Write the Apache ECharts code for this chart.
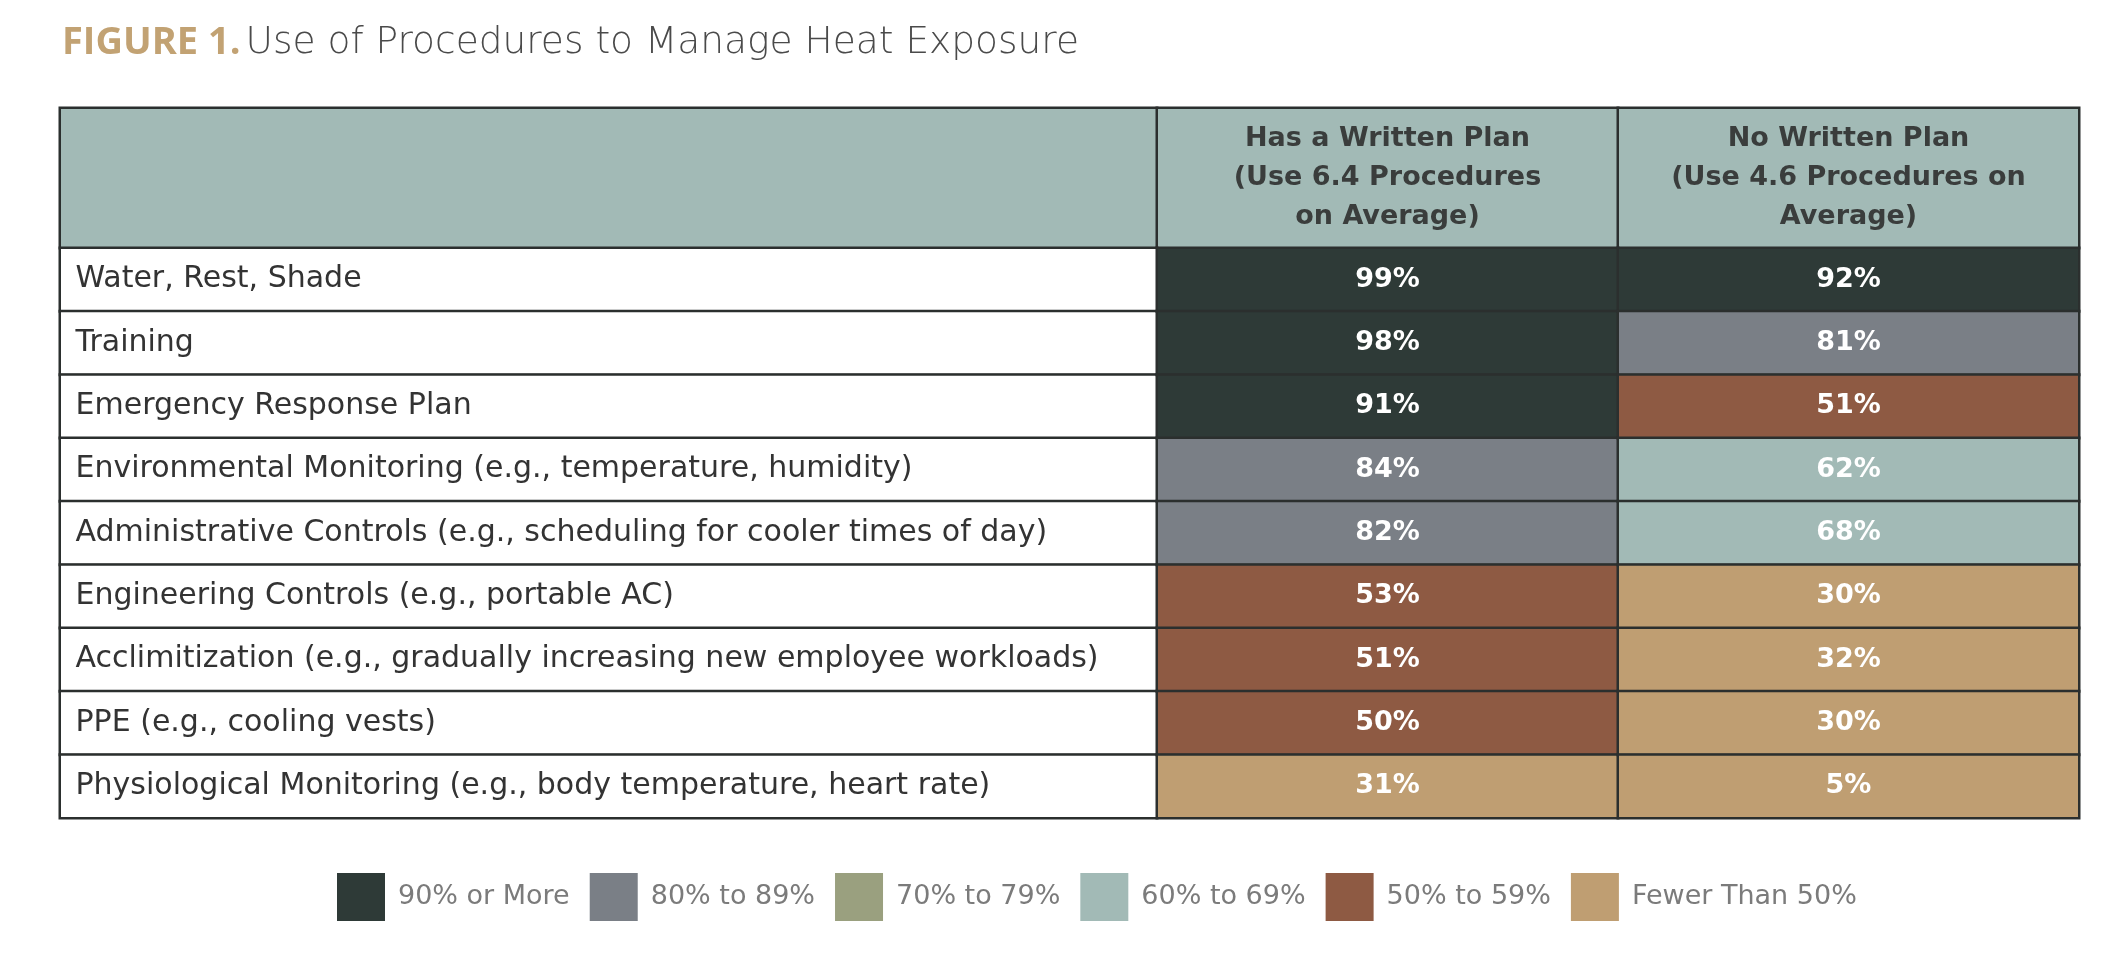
<!DOCTYPE html>
<html>
<head>
<meta charset="utf-8">
<title>Use of Procedures to Manage Heat Exposure</title>
<script src="https://cdn.jsdelivr.net/npm/echarts@6/dist/echarts.min.js"></script>
<style>
  html, body { margin: 0; padding: 0; background: #fff; }
  #chart { width: 2126px; height: 970px; }
</style>
</head>
<body>
<div id="chart"></div>
<script>
// procedures (rows, top to bottom)
const procedures = [
  'Water, Rest, Shade',
  'Training',
  'Emergency Response Plan',
  'Environmental Monitoring (e.g., temperature, humidity)',
  'Administrative Controls (e.g., scheduling for cooler times of day)',
  'Engineering Controls (e.g., portable AC)',
  'Acclimitization (e.g., gradually increasing new employee workloads)',
  'PPE (e.g., cooling vests)',
  'Physiological Monitoring (e.g., body temperature, heart rate)'
]
// column headers
const groups = [
  'Has a Written Plan\n(Use 6.4 Procedures\non Average)',
  'No Written Plan\n(Use 4.6 Procedures on\nAverage)'
]
// percent of employers using each procedure
const withPlan = [99, 98, 91, 84, 82, 53, 51, 50, 31]
const noPlan = [92, 81, 51, 62, 68, 30, 32, 30, 5]
// colour bands of the key
const bandLabels = ['90% or More', '80% to 89%', '70% to 79%', '60% to 69%', '50% to 59%', 'Fewer Than 50%']
const bandMins = [90, 80, 70, 60, 50, 0]
const bandColors = ['#2e3a37', '#7a7f86', '#9aa07f', '#a2bab6', '#8e5a43', '#bf9e72']

const font = 'DejaVu Sans'
const line = '#2b2f2e'

const valueCells = []
withPlan.forEach((v, i) => valueCells.push([0, i, v]))
noPlan.forEach((v, i) => valueCells.push([1, i, v]))

const pieces = bandLabels.map((label, i) => ({
  gte: bandMins[i],
  lt: i === 0 ? 101 : bandMins[i - 1],
  label: label,
  color: bandColors[i]
}))

const gridL = { left: 60, width: 1097 }
const gridV = { left: 1157, width: 922 }
const head = { top: 108, height: 140 }
const body = { top: 248, height: 570 }

const hiddenCat = (data, gridIndex, inverse) => ({
  type: 'category', data: data, gridIndex: gridIndex, show: false, inverse: !!inverse
})

let myChart = echarts.init(document.getElementById('chart'), null, { renderer: 'canvas' })

const option = {
  backgroundColor: '#fff',
  animation: false,
  title: {
    left: 57,
    top: 19,
    text: '{a|FIGURE 1.} {b|Use of Procedures to Manage Heat Exposure}',
    textStyle: {
      rich: {
        a: { fontFamily: 'Open Sans', fontSize: 38, fontWeight: 'bold', color: '#c2a273' },
        b: { fontFamily: font, fontSize: 37.5, fontWeight: 200, color: '#4a4a4a' }
      }
    }
  },
  grid: [
    Object.assign({}, gridL, head),
    Object.assign({}, gridV, head),
    Object.assign({}, gridL, body),
    Object.assign({}, gridV, body)
  ],
  xAxis: [
    hiddenCat([''], 0),
    hiddenCat(groups, 1),
    hiddenCat([''], 2),
    hiddenCat(groups, 3)
  ],
  yAxis: [
    hiddenCat([''], 0),
    hiddenCat([''], 1),
    hiddenCat(procedures, 2, true),
    hiddenCat(procedures, 3, true)
  ],
  visualMap: {
    type: 'piecewise',
    seriesIndex: 3,
    dimension: 2,
    orient: 'horizontal',
    inverse: true,
    left: 322,
    top: 858,
    itemWidth: 48,
    itemHeight: 48,
    itemGap: 20,
    textGap: 13,
    itemSymbol: 'rect',
    selectedMode: false,
    hoverLink: false,
    pieces: pieces,
    textStyle: { fontFamily: font, fontSize: 27, color: '#7b7b7b' }
  },
  series: [
    {
      // empty corner header cell
      type: 'heatmap', xAxisIndex: 0, yAxisIndex: 0,
      data: [[0, 0, 0]],
      itemStyle: { color: '#a2bab6', borderColor: line, borderWidth: 2.5 },
      emphasis: { disabled: true },
      label: { show: false }
    },
    {
      // column headers
      type: 'heatmap', xAxisIndex: 1, yAxisIndex: 1,
      data: groups.map((g, i) => [i, 0, 0]),
      itemStyle: { color: '#a2bab6', borderColor: line, borderWidth: 2.5 },
      emphasis: { disabled: true },
      label: {
        show: true,
        formatter: p => groups[p.value[0]],
        fontFamily: font, fontSize: 27, fontWeight: 'bold', color: '#3a3d3c',
        lineHeight: 39, align: 'center'
      }
    },
    {
      // row labels
      type: 'heatmap', xAxisIndex: 2, yAxisIndex: 2,
      data: procedures.map((p, i) => [0, i, 0]),
      itemStyle: { color: '#ffffff', borderColor: line, borderWidth: 2.5 },
      emphasis: { disabled: true },
      label: {
        show: true,
        position: 'insideLeft',
        distance: 17,
        padding: [7, 0, 0, 0],
        formatter: p => procedures[p.value[1]],
        fontFamily: font, fontSize: 30, color: '#333333'
      }
    },
    {
      // percentages
      type: 'heatmap', xAxisIndex: 3, yAxisIndex: 3,
      data: valueCells,
      itemStyle: { borderColor: line, borderWidth: 2.5 },
      emphasis: { disabled: true },
      label: {
        show: true,
        padding: [4, 0, 0, 0],
        formatter: p => p.value[2] + '%',
        fontFamily: font, fontSize: 27, fontWeight: 'bold', color: '#ffffff'
      }
    }
  ]
}
myChart.setOption(option)
window.onresize = () => {
  myChart.resize()
}
</script>
</body>
</html>
